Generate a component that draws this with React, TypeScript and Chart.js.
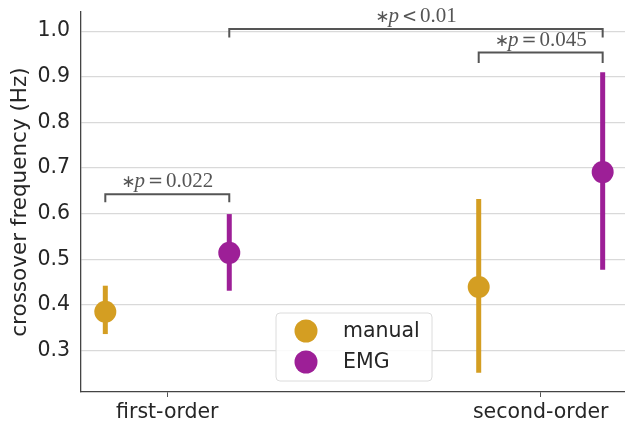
import React, { useEffect, useRef } from "react";
import { Chart, registerables } from "chart.js";

Chart.register(...registerables);

const categories = ["first-order", "second-order"];
const seriesNames = ["manual", "EMG"];
const seriesColors = ["#D49E22", "#9D1F97"];
const manualMean = [0.385, 0.439];
const manualLow = [0.336, 0.251];
const manualHigh = [0.442, 0.632];
const emgMean = [0.514, 0.691];
const emgLow = [0.431, 0.477];
const emgHigh = [0.599, 0.91];
const dodge = [-0.166, 0.166];
const yTicks = [0.3, 0.4, 0.5, 0.6, 0.7, 0.8, 0.9, 1.0];

// significance brackets (between category/series points)
const bracketFromCat = [0, 0, 1];
const bracketFromSeries = [0, 1, 0];
const bracketToCat = [0, 1, 1];
const bracketToSeries = [1, 1, 1];
const bracketTop = [0.6425, 1.005, 0.953];
const bracketLegEnd = [0.625, 0.986, 0.93];
const bracketRel = ["=", "<", "="];
const bracketP = ["0.022", "0.01", "0.045"];

const means = [manualMean, emgMean];
const lows = [manualLow, emgLow];
const highs = [manualHigh, emgHigh];

const TEXT = "#262626";
const GRAY = "#555555";

const errorBarPlugin = {
  id: "errorBars",
  beforeDatasetsDraw(chart: any) {
    const { ctx, scales } = chart;
    const xs = scales.x;
    const ys = scales.y;
    ctx.save();
    ctx.lineWidth = 5;
    ctx.lineCap = "butt";
    for (let s = 0; s < 2; s++) {
      ctx.strokeStyle = seriesColors[s];
      for (let i = 0; i < categories.length; i++) {
        const x = xs.getPixelForValue(i + dodge[s]);
        ctx.beginPath();
        ctx.moveTo(x, ys.getPixelForValue(lows[s][i]));
        ctx.lineTo(x, ys.getPixelForValue(highs[s][i]));
        ctx.stroke();
      }
    }
    ctx.restore();
  },
};

function drawMathLabel(ctx: CanvasRenderingContext2D, cx: number, baseline: number, rel: string, p: string) {
  const parts = [
    { t: "\u2217", f: "17px 'DejaVu Sans'", gap: -1 },
    { t: "p", f: "italic 21px 'Liberation Serif'", gap: 3 },
    { t: rel, f: "18px 'DejaVu Serif'", gap: 3 },
    { t: p, f: "21px 'Liberation Serif'", gap: 0 },
  ];
  let total = 0;
  const widths: number[] = [];
  parts.forEach((part, k) => {
    ctx.font = part.f;
    const w = ctx.measureText(part.t).width;
    widths.push(w);
    total += w + (k < parts.length - 1 ? part.gap : 0);
  });
  let x = cx - total / 2;
  ctx.fillStyle = GRAY;
  ctx.textAlign = "left";
  ctx.textBaseline = "alphabetic";
  parts.forEach((part, k) => {
    ctx.font = part.f;
    ctx.fillText(part.t, x, baseline);
    x += widths[k] + part.gap;
  });
}

const annotationPlugin = {
  id: "annotations",
  afterDatasetsDraw(chart: any) {
    const { ctx, scales, chartArea } = chart;
    const xs = scales.x;
    const ys = scales.y;
    ctx.save();
    for (let b = 0; b < bracketTop.length; b++) {
      const x1 = xs.getPixelForValue(bracketFromCat[b] + dodge[bracketFromSeries[b]]);
      const x2 = xs.getPixelForValue(bracketToCat[b] + dodge[bracketToSeries[b]]);
      const yT = ys.getPixelForValue(bracketTop[b]);
      const yL = ys.getPixelForValue(bracketLegEnd[b]);
      ctx.strokeStyle = GRAY;
      ctx.lineWidth = 2;
      ctx.lineCap = "butt";
      ctx.lineJoin = "miter";
      ctx.beginPath();
      ctx.moveTo(x1, yL);
      ctx.lineTo(x1, yT);
      ctx.lineTo(x2, yT);
      ctx.lineTo(x2, yL);
      ctx.stroke();
      drawMathLabel(ctx, (x1 + x2) / 2, yT - 7, bracketRel[b], bracketP[b]);
    }
    // legend (lower center)
    const boxW = 156;
    const boxH = 68;
    const cx = (chartArea.left + chartArea.right + 2) / 2;
    const bx = cx - boxW / 2;
    const by = chartArea.bottom - 11 - boxH;
    const r = 4;
    ctx.beginPath();
    ctx.moveTo(bx + r, by);
    ctx.lineTo(bx + boxW - r, by);
    ctx.arcTo(bx + boxW, by, bx + boxW, by + r, r);
    ctx.lineTo(bx + boxW, by + boxH - r);
    ctx.arcTo(bx + boxW, by + boxH, bx + boxW - r, by + boxH, r);
    ctx.lineTo(bx + r, by + boxH);
    ctx.arcTo(bx, by + boxH, bx, by + boxH - r, r);
    ctx.lineTo(bx, by + r);
    ctx.arcTo(bx, by, bx + r, by, r);
    ctx.closePath();
    ctx.fillStyle = "rgba(255,255,255,0.85)";
    ctx.fill();
    ctx.strokeStyle = "#dcdcdc";
    ctx.lineWidth = 1;
    ctx.stroke();
    ctx.font = "20.5px 'DejaVu Sans'";
    ctx.textAlign = "left";
    ctx.textBaseline = "middle";
    for (let s = 0; s < seriesNames.length; s++) {
      const my = by + 18 + s * 31;
      ctx.fillStyle = seriesColors[s];
      ctx.beginPath();
      ctx.arc(bx + 30, my, 11.5, 0, Math.PI * 2);
      ctx.fill();
      ctx.fillStyle = TEXT;
      ctx.fillText(seriesNames[s], bx + 67, my + 1);
    }
    ctx.restore();
  },
};

export default function App() {
  const canvasRef = useRef<HTMLCanvasElement | null>(null);
  useEffect(() => {
    const canvas = canvasRef.current;
    if (!canvas) return;
    const datasets = seriesNames.map((name, s) => ({
      label: name,
      data: categories.map((_, i) => ({ x: i + dodge[s], y: means[s][i] })),
      backgroundColor: seriesColors[s],
      borderWidth: 0,
      pointRadius: 11,
      pointHoverRadius: 11,
      showLine: false,
      clip: false,
    }));
    const chart = new Chart(canvas, {
      type: "scatter",
      data: { datasets },
      plugins: [errorBarPlugin, annotationPlugin],
      options: {
        animation: false,
        responsive: false,
        devicePixelRatio: 1,
        layout: { autoPadding: false, padding: { top: 12, right: 0, left: 0, bottom: 0 } },
        plugins: { legend: { display: false }, tooltip: { enabled: false } },
        scales: {
          x: {
            type: "linear",
            min: -0.2311,
            max: 1.2258,
            afterBuildTicks: (scale: any) => {
              scale.ticks = categories.map((_, i) => ({ value: i }));
            },
            afterFit: (scale: any) => {
              scale.height = 34;
              scale.paddingLeft = 0;
              scale.paddingRight = 0;
              scale.paddingTop = 0;
              scale.paddingBottom = 0;
            },
            ticks: {
              callback: (v: any) => categories[Math.round(Number(v))] ?? "",
              font: { family: "'DejaVu Sans'", size: 20.5 },
              color: TEXT,
              padding: 3,
              maxRotation: 0,
              autoSkip: false,
            },
            grid: {
              drawOnChartArea: false,
              drawTicks: true,
              tickLength: 5,
              tickColor: GRAY,
              tickWidth: 1,
            },
            border: { display: true, color: "#444444", width: 1.3 },
          },
          y: {
            type: "linear",
            min: 0.209,
            max: 1.042,
            afterBuildTicks: (scale: any) => {
              scale.ticks = yTicks.map((v) => ({ value: v }));
            },
            afterFit: (scale: any) => {
              scale.width = 81;
              scale.paddingLeft = 0;
              scale.paddingRight = 0;
              scale.paddingTop = 0;
              scale.paddingBottom = 0;
            },
            ticks: {
              callback: (v: any) => Number(v).toFixed(1),
              font: { family: "'DejaVu Sans'", size: 20.5 },
              color: TEXT,
              padding: 11,
            },
            grid: {
              color: "#d9d9d9",
              lineWidth: 1.2,
              drawTicks: false,
            },
            border: { display: true, color: "#444444", width: 1.3 },
            title: {
              display: true,
              text: "crossover frequency (Hz)",
              font: { family: "'DejaVu Sans'", size: 21.5 },
              color: TEXT,
              padding: { top: 8, bottom: 0 },
            },
          },
        },
      },
    } as any);
    return () => chart.destroy();
  }, []);
  return (
    <div style={{ position: "absolute", left: 0, top: 0, width: 625, height: 426, background: "#fff" }}>
      <canvas ref={canvasRef} width={625} height={426} style={{ width: 625, height: 426, display: "block" }} />
    </div>
  );
}
